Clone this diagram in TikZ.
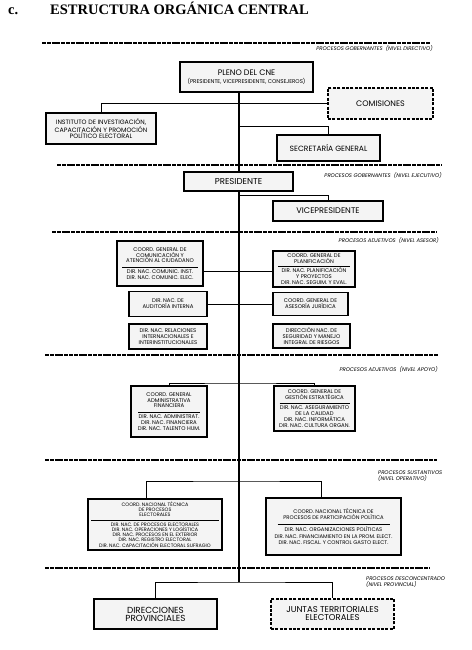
\documentclass[tikz,border=0pt]{standalone}
\usepackage{fontspec}
\setmainfont{Poppins}
\newfontfamily\titlefont{Liberation Serif}
\usepackage{tikz}
\usetikzlibrary{positioning,backgrounds}
\newcommand{\fsz}[2]{\fontsize{#1}{#2}\selectfont}
\newcommand{\seprule}[1]{\rule[0.6pt]{#1pt}{0.4pt}}
\tikzset{
  orgbox/.style={draw=black, line width=1.1pt, fill=gray!9, align=center,
    inner sep=1pt, font=\fsz{5.4}{5.9}},
  strongbox/.style={orgbox, line width=1.7pt},
  dashbox/.style={orgbox, line width=1.4pt, dash pattern=on 3pt off 1.4pt},
  sized/.style 2 args={minimum width=#1pt, minimum height=#2pt},
  conn/.style={draw=black, line width=1pt},
  spine/.style={conn, line width=1.2pt},
  levelline/.style={draw=black, line width=1.3pt, dash pattern=on 4pt off 0.8pt},
  levellabel/.style={font=\fsz{5.3}{6.2}\itshape, align=left, inner sep=0pt}
}

\begin{document}
\begin{tikzpicture}[x=1pt, y=-1pt]
  \useasboundingbox (0,0) rectangle (471,650);
  \node[anchor=base west, inner sep=0pt, font=\titlefont\bfseries\fsz{14.5}{16}] (ttlc) at (8,14.5) {c.};
  \node[anchor=base west, inner sep=0pt, font=\titlefont\bfseries\fsz{14.5}{16}] (ttl) at (50,14.5) {ESTRUCTURA ORGÁNICA CENTRAL};

  \foreach \y/\xa/\xb in {43/42/430, 165/57/442, 232/52/437, 355/45/438, 460/45/437, 568/45/430}
    \draw[levelline] (\xa,\y) -- (\xb,\y);

  \node[levellabel, anchor=east] (lbl1) at (433,49) {PROCESOS GOBERNANTES \ (NIVEL DIRECTIVO)};
  \node[levellabel, anchor=east] (lbl2) at (442,176) {PROCESOS GOBERNANTES \ (NIVEL EJECUTIVO)};
  \node[levellabel, anchor=east] (lbl3) at (439,241) {PROCESOS ADJETIVOS \ (NIVEL ASESOR)};
  \node[levellabel, anchor=east] (lbl4) at (438,370) {PROCESOS ADJETIVOS \ (NIVEL APOYO)};
  \node[levellabel, anchor=west] (lbl5) at (378,476) {PROCESOS SUSTANTIVOS\\(NIVEL OPERATIVO)};
  \node[levellabel, anchor=west] (lbl6) at (366,582) {PROCESOS DESCONCENTRADO\\(NIVEL PROVINCIAL)};

  \node[strongbox, sized={133}{30}, font=\fsz{8}{8.5}] (pleno) at (246.5,77)
    {PLENO DEL CNE\\{\fsz{5.5}{6}(PRESIDENTE, VICEPRESIDENTE, CONSEJEROS)}};
  \node[dashbox, sized={105}{31}, font=\fsz{8}{9}] (comisiones) at (380.5,103.5) {COMISIONES};
  \node[orgbox, sized={110}{31}, font=\fsz{6.3}{6.2}] (instituto) at (101,128.5)
    {INSTITUTO DE INVESTIGACIÓN,\\CAPACITACIÓN Y PROMOCIÓN\\POLÍTICO ELECTORAL};
  \node[orgbox, sized={103}{26}, font=\fsz{7.6}{8.5}] (secretaria) at (328.5,148) {SECRETARÍA GENERAL};
  \node[orgbox, sized={109}{19}, font=\fsz{8.6}{9}] (presidente) at (238.5,181.5) {PRESIDENTE};
  \node[orgbox, sized={110}{20}, font=\fsz{8.2}{9}] (vice) at (328,211) {VICEPRESIDENTE};

  \node[strongbox, sized={86}{45}] (a1) at (160,263.5)
    {COORD. GENERAL DE\\COMUNICACIÓN Y\\ATENCIÓN AL CIUDADANO\\[-1pt]\seprule{76}\\DIR. NAC. COMUNIC. INST.\\DIR. NAC. COMUNIC. ELEC.};
  \node[orgbox, sized={78}{25}] (a2) at (168,304) {DIR. NAC. DE\\AUDITORÍA INTERNA};
  \node[orgbox, sized={78}{25}] (a3) at (168,336.5) {DIR. NAC. RELACIONES\\INTERNACIONALES E\\INTERINSTITUCIONALES};
  \node[strongbox, sized={82}{36}] (d1) at (314,269)
    {COORD. GENERAL DE\\PLANIFICACIÓN\\[-1.5pt]\seprule{72}\\[-0.5pt]DIR. NAC. PLANIFICACIÓN\\Y PROYECTOS\\DIR. NAC. SEGUIM. Y EVAL.};
  \node[orgbox, sized={75}{23}] (d2) at (310.5,304) {COORD. GENERAL DE\\ASESORÍA JURÍDICA};
  \node[orgbox, sized={77}{24}] (d3) at (311.5,336) {DIRECCIÓN NAC. DE\\SEGURIDAD Y MANEJO\\INTEGRAL DE RIESGOS};

  \node[orgbox, sized={76}{51}] (b1) at (169,411.5)
    {COORD. GENERAL\\ADMINISTRATIVA\\FINANCIERA\\[-1pt]\seprule{62}\\DIR. NAC. ADMINISTRAT.\\DIR. NAC. FINANCIERA\\DIR. NAC. TALENTO HUM.};
  \node[orgbox, sized={81}{45}] (b2) at (314.5,408.5)
    {COORD. GENERAL DE\\GESTIÓN ESTRATÉGICA\\[-1pt]\seprule{70}\\DIR. NAC. ASEGURAMIENTO\\DE LA CALIDAD\\DIR. NAC. INFORMÁTICA\\DIR. NAC. CULTURA ORGAN.};

  \node[orgbox, sized={134}{51}, font=\fsz{4.9}{5.3}] (c1) at (155,524.5)
    {COORD. NACIONAL TÉCNICA\\DE PROCESOS\\ELECTORALES\\[-1pt]\seprule{128}\\[-0.5pt]DIR. NAC. DE PROCESOS ELECTORALES\\DIR. NAC. OPERACIONES Y LOGÍSTICA\\DIR. NAC. PROCESOS EN EL EXTERIOR\\DIR. NAC. REGISTRO ELECTORAL\\DIR. NAC. CAPACITACIÓN ELECTORAL SUFRAGIO};
  \node[strongbox, sized={135}{57}, font=\fsz{5.3}{6.5}] (c2) at (333.5,526.5)
    {COORD. NACIONAL TÉCNICA DE\\PROCESOS DE PARTICIPACIÓN POLÍTICA\\[-1pt]\seprule{112}\\DIR. NAC. ORGANIZACIONES POLÍTICAS\\DIR. NAC. FINANCIAMIENTO EN LA PROM. ELECT.\\DIR. NAC. FISCAL. Y CONTROL GASTO ELECT.};

  \node[strongbox, sized={123}{30}, font=\fsz{8.8}{8}] (e1) at (155.5,614) {DIRECCIONES\\PROVINCIALES};
  \node[dashbox, sized={123}{30}, font=\fsz{8.5}{8}] (e2) at (332.5,614) {JUNTAS TERRITORIALES\\ELECTORALES};

  \coordinate (spinetop) at (239,92);
  \coordinate (spinebot) at (239,582);
  \coordinate (jsec) at (239,127);
  \coordinate (jvice) at (239,195);
  \coordinate (japo) at (239,383);
  \coordinate (jope) at (239,481);
  \coordinate (a1c) at ([yshift=-7.5pt]a1.east);
  \begin{scope}[on background layer]
    \draw[spine] (spinetop) -- (spinebot);
    \draw[conn] (instituto.north) |- (comisiones.west);
    \draw[conn] (jsec) -| (secretaria.north);
    \draw[conn] (jvice) -| (vice.north);
    \draw[conn] (a1c) -- (a1c -| d1.west);
    \draw[conn] (a2.east) -- (d2.west);
    \draw[conn] (b1.north) |- (japo) -| (b2.north);
    \draw[conn] ([xshift=-9pt]c1.north) |- (jope) -| ([xshift=-12.5pt]c2.north);
    \draw[conn] (e1.north) |- (spinebot) -| (e2.north);
  \end{scope}
\end{tikzpicture}
\end{document}
